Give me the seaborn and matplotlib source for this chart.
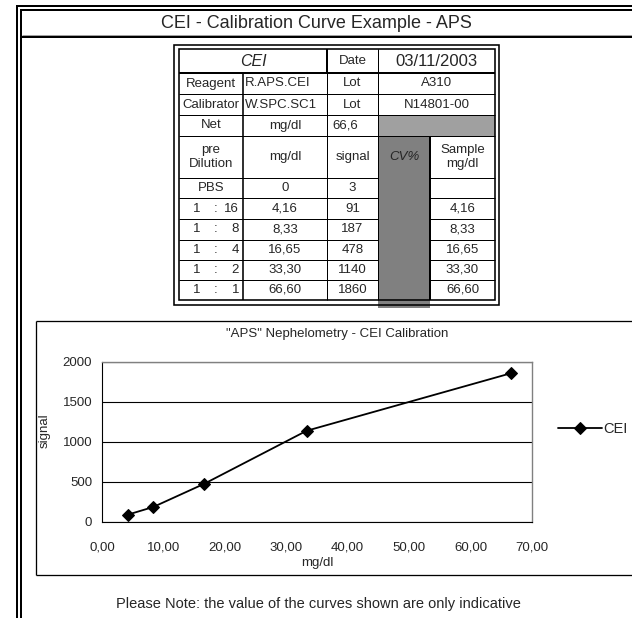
import numpy as np
import pandas as pd
import seaborn as sns
import matplotlib.pyplot as plt
from matplotlib.patches import Rectangle
from matplotlib.ticker import FuncFormatter

# calibration data
conc = [4.16, 8.33, 16.65, 33.30, 66.60]
signal = [91, 187, 478, 1140, 1860]
series = ["CEI"] * 5

dilutions = ["16", "8", "4", "2", "1"]
conc_txt = ["4,16", "8,33", "16,65", "33,30", "66,60"]
signal_txt = ["91", "187", "478", "1140", "1860"]

y_ticks = [0, 500, 1000, 1500, 2000]
x_ticks = [0, 10, 20, 30, 40, 50, 60, 70]

sns.set_style("white")
plt.rcParams["font.family"] = ["Liberation Sans", "DejaVu Sans"]

W, H = 632, 618
fig = plt.figure(figsize=(W / 100, H / 100), dpi=100)

# sheet background, pixel coordinates
bg = fig.add_axes([0, 0, 1, 1])
bg.set_xlim(0, W)
bg.set_ylim(H, 0)
bg.axis("off")


def hline(y, x0, x1, lw=1.0, color="black"):
    bg.plot([x0, x1], [y, y], color=color, lw=lw * 0.72, solid_capstyle="butt")


def vline(x, y0, y1, lw=1.0, color="black"):
    bg.plot([x, x], [y0, y1], color=color, lw=lw * 0.72, solid_capstyle="butt")


def cell(x, y, s, ha="center", size=9.5, style="normal"):
    bg.text(x, y, s, ha=ha, va="center", fontsize=size, style=style)


# outer double frame
vline(17, 5, H, 2)
vline(21, 9, H, 2)
hline(6, 16, W, 2)
hline(10, 20, W, 2)
hline(35, 22, W, 1, "#a0a0a0")
hline(37, 20, W, 2)
bg.text(316, 24, "CEI - Calibration Curve Example - APS", ha="center", va="center", fontsize=13)

# table
cx = [179, 243, 327, 378, 430, 495]
ry = [49, 73, 94, 115, 136, 178, 198, 219, 240, 260, 280, 300]

bg.add_patch(Rectangle((cx[3], ry[3]), cx[5] - cx[3], ry[4] - ry[3], color="#a0a0a0", lw=0))
bg.add_patch(Rectangle((cx[3], ry[4]), cx[4] - cx[3], 308 - ry[4], color="#808080", lw=0))

# double border
bg.add_patch(Rectangle((174, 45), 325, 260, fill=False, ec="black", lw=1.6 * 0.72))
bg.add_patch(Rectangle((cx[0], ry[0]), cx[5] - cx[0], ry[-1] - ry[0], fill=False, ec="black", lw=1.6 * 0.72))

# row lines
hline(ry[1], cx[0], cx[5], 2)
for y in ry[2:4]:
    hline(y, cx[0], cx[5])
hline(ry[4], cx[0], cx[5])
for y in ry[5:-1]:
    hline(y, cx[0], cx[3])
    hline(y, cx[4], cx[5])

# column lines
vline(cx[2], ry[0], ry[1], 2)
vline(cx[3], ry[0], ry[1], 1)
vline(cx[1], ry[1], ry[-1], 1.6)
vline(cx[2], ry[1], ry[-1], 1)
vline(cx[3], ry[1], ry[-1], 1)
vline(cx[4], ry[4], ry[-1], 2)

mid = [(ry[i] + ry[i + 1]) / 2 for i in range(len(ry) - 1)]

cell((cx[0] + cx[2]) / 2, mid[0], "CEI", size=11.5, style="italic")
cell((cx[2] + cx[3]) / 2, mid[0], "Date")
cell((cx[3] + cx[5]) / 2, mid[0], "03/11/2003", size=12)

cell((cx[0] + cx[1]) / 2, mid[1], "Reagent")
cell(cx[1] + 2, mid[1], "R.APS.CEI", ha="left")
cell((cx[2] + cx[3]) / 2, mid[1], "Lot")
cell((cx[3] + cx[5]) / 2, mid[1], "A310")

cell((cx[0] + cx[1]) / 2, mid[2], "Calibrator")
cell(cx[1] + 2, mid[2], "W.SPC.SC1", ha="left")
cell((cx[2] + cx[3]) / 2, mid[2], "Lot")
cell((cx[3] + cx[5]) / 2, mid[2], "N14801-00")

cell((cx[0] + cx[1]) / 2, mid[3], "Net")
cell((cx[1] + cx[2]) / 2, mid[3], "mg/dl")
cell(cx[2] + 5, mid[3], "66,6", ha="left")

cell((cx[0] + cx[1]) / 2, mid[4], "pre\nDilution")
cell((cx[1] + cx[2]) / 2, mid[4], "mg/dl")
cell((cx[2] + cx[3]) / 2, mid[4], "signal")
cell((cx[3] + cx[4]) / 2, mid[4], "CV%", style="italic")
cell((cx[4] + cx[5]) / 2, mid[4], "Sample\nmg/dl")

cell((cx[0] + cx[1]) / 2, mid[5], "PBS")
cell((cx[1] + cx[2]) / 2, mid[5], "0")
cell((cx[2] + cx[3]) / 2, mid[5], "3")

for i in range(5):
    y = mid[6 + i]
    cell(197, y, "1")
    cell(216, y, ":")
    cell(239, y, dilutions[i], ha="right")
    cell((cx[1] + cx[2]) / 2, y, conc_txt[i])
    cell((cx[2] + cx[3]) / 2, y, signal_txt[i])
    cell((cx[4] + cx[5]) / 2, y, conc_txt[i])

# chart box
hline(321, 36, W, 1.3)
hline(575, 36, W, 1.3)
vline(36, 321, 575, 1.3)
bg.text(337, 334, "\"APS\" Nephelometry - CEI Calibration", ha="center", va="center", fontsize=9.5)

bg.text(318, 604, "Please Note: the value of the curves shown are only indicative",
        ha="center", va="center", fontsize=10.5)

# the chart itself
px0, px1, py0, py1 = 102, 532, 362, 522
ax = fig.add_axes([px0 / W, (H - py1) / H, (px1 - px0) / W, (py1 - py0) / H])
df = pd.DataFrame({"mg/dl": conc, "signal": signal, "series": series})
sns.lineplot(data=df, x="mg/dl", y="signal", hue="series", palette=["black"],
             marker="D", markersize=6.5, markeredgecolor="black", lw=1.3, ax=ax, legend=True)

ax.set_xlim(0, 70)
ax.set_ylim(0, 2000)
ax.set_xticks(x_ticks)
ax.set_yticks(y_ticks)
ax.xaxis.set_major_formatter(FuncFormatter(lambda v, p: f"{v:.2f}".replace(".", ",")))
ax.tick_params(axis="both", direction="out", length=4, width=0.8, color="black", labelsize=9.5, pad=3)
ax.tick_params(axis="x", pad=10)
ax.yaxis.grid(True, color="black", lw=0.8)
ax.set_axisbelow(True)
for s in ["top", "right"]:
    ax.spines[s].set_color("#808080")
    ax.spines[s].set_linewidth(1.0)
for s in ["left", "bottom"]:
    ax.spines[s].set_color("black")
    ax.spines[s].set_linewidth(0.8)

ax.set_xlabel("mg/dl", fontsize=9.5, labelpad=0)
ax.set_ylabel("signal", fontsize=9.5, labelpad=0)
ax.xaxis.set_label_coords(0.5, -0.22)
ax.yaxis.set_label_coords(-0.12, 0.57)

leg = ax.legend(loc="center left", bbox_to_anchor=(1.03, 0.58), frameon=False, fontsize=10.5,
                handlelength=3, handletextpad=0.1)
leg.set_title(None)

fig.savefig("out.png", dpi=100)
